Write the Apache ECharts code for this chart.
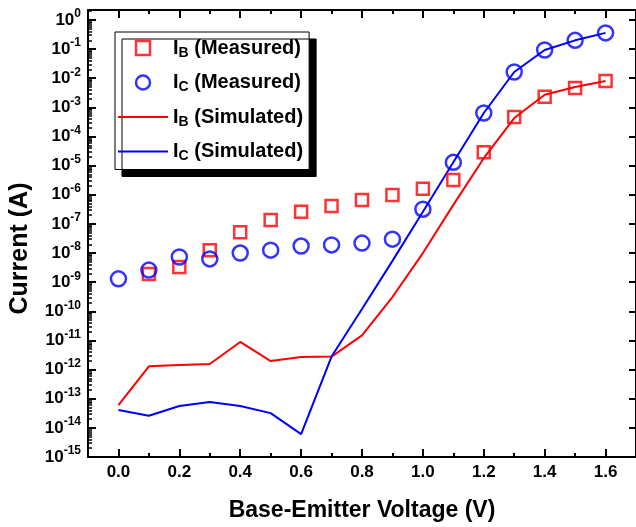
<!DOCTYPE html>
<html><head><meta charset="utf-8">
<script src="https://cdn.jsdelivr.net/npm/echarts@6/dist/echarts.min.js"></script>
<style>html,body{margin:0;padding:0;background:#fff}#c{width:636px;height:527px}</style>
</head><body><div id="c"></div>
<script>
// ---- data ----
const voltage = [0.0,0.1,0.2,0.3,0.4,0.5,0.6,0.7,0.8,0.9,1.0,1.1,1.2,1.3,1.4,1.5,1.6];
const ibMeasured = [null,1.9e-9,3.3e-9,1.26e-8,5.2e-8,1.35e-7,2.6e-7,4.1e-7,6.6e-7,9.8e-7,1.6e-6,3.2e-6,2.9e-5,4.7e-4,2.3e-3,4.6e-3,8.1e-3];
const icMeasured = [1.3e-9,2.6e-9,7.3e-9,6.3e-9,1.0e-8,1.26e-8,1.74e-8,1.9e-8,2.2e-8,3.0e-8,3.2e-7,1.3e-5,6.4e-4,1.64e-2,9.3e-2,0.2,0.36];
const ibSimulated = [6.0e-14,1.3e-12,1.44e-12,1.55e-12,8.9e-12,1.96e-12,2.7e-12,2.8e-12,1.5e-11,3.1e-10,1.0e-8,4.5e-7,1.8e-5,4.3e-4,2.7e-3,5.0e-3,8.1e-3];
const icSimulated = [4.1e-14,2.6e-14,5.6e-14,7.7e-14,5.6e-14,3.2e-14,6.1e-15,2.8e-12,1.2e-10,5.4e-9,2.6e-7,1.3e-5,6.4e-4,1.64e-2,9.3e-2,0.2,0.36];
const seriesNames = ['IB (Measured)','IC (Measured)','IB (Simulated)','IC (Simulated)'];
const xTickLabels = [0.0,0.2,0.4,0.6,0.8,1.0,1.2,1.4,1.6];
const xMinorTicks = [0.1,0.3,0.5,0.7,0.9,1.1,1.3,1.5,1.7];
const yTickExponents = [0,-1,-2,-3,-4,-5,-6,-7,-8,-9,-10,-11,-12,-13,-14,-15];
const yMinorMultipliers = [2,3,4,5,6,7,8,9];

// ---- build ----
const FONT = 'Liberation Sans, Arial, sans-serif';
const X_MIN = -0.1, X_MAX = 1.7, Y_MIN = 1e-15, Y_MAX = 2.2;
const yMajorValues = yTickExponents.map(e => Math.pow(10, e));
const yMinorValues = [];
yTickExponents.forEach(e => yMinorMultipliers.forEach(m => {
  const v = m * Math.pow(10, e);
  if (v < Y_MAX) yMinorValues.push(v);
}));
const pairs = arr => voltage.map((v, i) => [v, arr[i]]);

const chart = echarts.init(document.getElementById('c'), null, {renderer: 'canvas'});
const axisLineStyle = {color: '#000', width: 2};
const baseX = {type: 'value', gridIndex: 0, min: X_MIN, max: X_MAX, splitLine: {show: false}, axisLabel: {show: false}, axisLine: {show: false, onZero: false}};
const baseY = {type: 'log', logBase: 10, gridIndex: 0, min: Y_MIN, max: Y_MAX, splitLine: {show: false}, axisLabel: {show: false}, axisLine: {show: false, onZero: false}};
const SQUARE_ICON = 'path://M0,0L10,0L10,10L0,10Z';
const LINE_ICON = 'path://M0,0L50,0L50,2L0,2Z';

chart.setOption({
  animation: false,
  backgroundColor: '#fff',
  grid: {left: 87, top: 10, width: 553, height: 447, containLabel: false},
  xAxis: [
    Object.assign({}, baseX, {
      position: 'bottom',
      axisLine: {show: true, onZero: false, lineStyle: axisLineStyle},
      axisTick: {show: true, inside: true, length: 8, lineStyle: {color: '#000', width: 2}, customValues: xTickLabels},
      axisLabel: {show: true, customValues: xTickLabels, formatter: v => Number(v).toFixed(1), color: '#000', fontFamily: FONT, fontWeight: 'bold', fontSize: 17, margin: 7},
      name: 'Base-Emitter Voltage (V)', nameLocation: 'middle', nameGap: 42,
      nameTextStyle: {color: '#000', fontFamily: FONT, fontWeight: 'bold', fontSize: 23}
    }),
    Object.assign({}, baseX, {
      position: 'bottom',
      axisTick: {show: true, inside: true, length: 4, lineStyle: {color: '#000', width: 2}, customValues: xMinorTicks}
    }),
    Object.assign({}, baseX, {
      position: 'top',
      axisLine: {show: true, onZero: false, lineStyle: axisLineStyle},
      axisTick: {show: true, inside: true, length: 8, lineStyle: {color: '#000', width: 2}, customValues: xTickLabels}
    }),
    Object.assign({}, baseX, {
      position: 'top',
      axisTick: {show: true, inside: true, length: 4, lineStyle: {color: '#000', width: 2}, customValues: xMinorTicks}
    })
  ],
  yAxis: [
    Object.assign({}, baseY, {
      position: 'left',
      axisLine: {show: true, onZero: false, lineStyle: axisLineStyle},
      axisTick: {show: true, inside: true, length: 8, lineStyle: {color: '#000', width: 2}, customValues: yMajorValues},
      axisLabel: {
        show: true, customValues: yMajorValues, margin: 7,
        formatter: v => '{a|10}{b|' + Math.round(Math.log10(v)) + '}',
        rich: {
          a: {color: '#000', fontFamily: FONT, fontWeight: 'bold', fontSize: 17, lineHeight: 24, verticalAlign: 'middle'},
          b: {color: '#000', fontFamily: FONT, fontWeight: 'bold', fontSize: 12, lineHeight: 12, verticalAlign: 'top'}
        }
      },
      name: 'Current (A)', nameLocation: 'middle', nameGap: 55, nameRotate: 90,
      nameTextStyle: {color: '#000', fontFamily: FONT, fontWeight: 'bold', fontSize: 25, padding: [0, 30, 0, 0]}
    }),
    Object.assign({}, baseY, {
      position: 'left',
      axisTick: {show: true, inside: true, length: 4, lineStyle: {color: '#000', width: 1.5}, customValues: yMinorValues}
    }),
    Object.assign({}, baseY, {
      position: 'right',
      axisLine: {show: true, onZero: false, lineStyle: axisLineStyle},
      axisTick: {show: true, inside: true, length: 7, lineStyle: {color: '#000', width: 2}, customValues: yMajorValues}
    })
  ],
  legend: {
    orient: 'vertical', left: 115, top: 32,
    padding: [6, 6, 6, 3], itemGap: 12.5, itemWidth: 50, itemHeight: 14,
    symbolKeepAspect: true,
    backgroundColor: '#fff', borderColor: '#000', borderWidth: 1,
    shadowColor: '#000', shadowBlur: 0, shadowOffsetX: 7, shadowOffsetY: 7,
    selectedMode: false,
    data: [
      {name: seriesNames[0], icon: SQUARE_ICON, itemStyle: {color: 'rgba(0,0,0,0)', borderColor: '#ff0000', borderWidth: 2.5}},
      {name: seriesNames[1], icon: 'circle', itemStyle: {color: 'rgba(0,0,0,0)', borderColor: '#0000ff', borderWidth: 2.5}},
      {name: seriesNames[2], icon: LINE_ICON, itemStyle: {color: '#ff0000', borderWidth: 0}},
      {name: seriesNames[3], icon: LINE_ICON, itemStyle: {color: '#0000ff', borderWidth: 0}}
    ],
    formatter: name => name.replace(/^I([BC]) (.*)$/, '{i|I}{s|$1}{t| $2}'),
    textStyle: {
      rich: {
        i: {color: '#000', fontFamily: FONT, fontWeight: 'bold', fontSize: 20, lineHeight: 24, verticalAlign: 'middle'},
        s: {color: '#000', fontFamily: FONT, fontWeight: 'bold', fontSize: 14, lineHeight: 14, verticalAlign: 'bottom'},
        t: {color: '#000', fontFamily: FONT, fontWeight: 'bold', fontSize: 20, lineHeight: 24, verticalAlign: 'middle'}
      }
    }
  },
  series: [
    {name: seriesNames[2], type: 'line', xAxisIndex: 0, yAxisIndex: 0, data: pairs(ibSimulated), symbol: 'none', showSymbol: false,
     lineStyle: {color: '#ff0000', width: 2}, itemStyle: {color: '#ff0000'}, z: 2},
    {name: seriesNames[3], type: 'line', xAxisIndex: 0, yAxisIndex: 0, data: pairs(icSimulated), symbol: 'none', showSymbol: false,
     lineStyle: {color: '#0000ff', width: 2}, itemStyle: {color: '#0000ff'}, z: 2},
    {name: seriesNames[0], type: 'scatter', xAxisIndex: 0, yAxisIndex: 0, data: pairs(ibMeasured).filter(p => p[1] != null), symbol: 'rect', symbolSize: 12,
     itemStyle: {color: 'rgba(0,0,0,0)', borderColor: '#ff0000', borderWidth: 2.5}, z: 3},
    {name: seriesNames[1], type: 'scatter', xAxisIndex: 0, yAxisIndex: 0, data: pairs(icMeasured), symbol: 'circle', symbolSize: 15,
     itemStyle: {color: 'rgba(0,0,0,0)', borderColor: '#0000ff', borderWidth: 2.5}, z: 4}
  ]
});
</script></body></html>
